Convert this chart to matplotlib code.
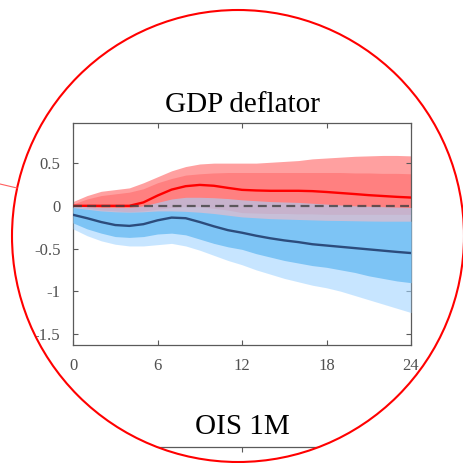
import numpy as np
import matplotlib
matplotlib.use("Agg")
import matplotlib.pyplot as plt
from matplotlib.path import Path
from matplotlib.patches import PathPatch, Circle

plt.rcParams['font.family'] = ['Liberation Serif', 'DejaVu Serif']
plt.rcParams['axes.unicode_minus'] = False

# horizons (months)
h = np.arange(0, 25)

# red response: median and bands
red_med = [0, 0, 0, 0, 0, 0.04, 0.12, 0.19, 0.23, 0.245, 0.235, 0.21, 0.187, 0.18, 0.176,
           0.176, 0.176, 0.172, 0.162, 0.15, 0.138, 0.125, 0.115, 0.105, 0.097]
red_out_hi = [0.05, 0.12, 0.17, 0.19, 0.21, 0.27, 0.34, 0.41, 0.46, 0.49, 0.5, 0.5, 0.5, 0.5, 0.51,
              0.52, 0.53, 0.55, 0.56, 0.57, 0.58, 0.585, 0.59, 0.59, 0.585]
red_in_hi = [0.02, 0.08, 0.12, 0.14, 0.16, 0.2, 0.27, 0.32, 0.36, 0.375, 0.385, 0.39, 0.39, 0.39, 0.39,
             0.39, 0.39, 0.39, 0.39, 0.39, 0.385, 0.385, 0.38, 0.38, 0.375]
red_in_lo = [-0.01, -0.03, -0.05, -0.06, -0.07, -0.06, -0.04, -0.02, -0.01, -0.01, -0.03, -0.05, -0.08,
             -0.085, -0.09, -0.09, -0.095, -0.095, -0.1, -0.1, -0.1, -0.1, -0.1, -0.1, -0.1]
red_out_lo = [-0.05, -0.09, -0.12, -0.13, -0.14, -0.13, -0.11, -0.09, -0.08, -0.08, -0.1, -0.12, -0.15,
              -0.16, -0.17, -0.17, -0.18, -0.18, -0.19, -0.19, -0.19, -0.2, -0.2, -0.2, -0.2]

# blue response: median and bands
blue_med = [-0.105, -0.145, -0.19, -0.225, -0.235, -0.215, -0.17, -0.138, -0.145, -0.19, -0.24, -0.285,
            -0.315, -0.35, -0.38, -0.405, -0.425, -0.45, -0.465, -0.48, -0.495, -0.51, -0.525, -0.54, -0.553]
blue_out_hi = [0.0, -0.01, -0.02, -0.02, -0.02, 0.0, 0.04, 0.08, 0.1, 0.1, 0.095, 0.085, 0.07, 0.06, 0.05,
               0.045, 0.04, 0.03, 0.02, 0.01, 0.0, -0.005, -0.01, -0.015, -0.02]
blue_in_hi = [-0.02, -0.04, -0.06, -0.07, -0.075, -0.07, -0.06, -0.06, -0.065, -0.075, -0.09, -0.11, -0.13,
              -0.14, -0.15, -0.155, -0.16, -0.165, -0.17, -0.172, -0.175, -0.178, -0.18, -0.18, -0.18]
blue_in_lo = [-0.2, -0.27, -0.32, -0.36, -0.37, -0.36, -0.33, -0.32, -0.34, -0.39, -0.44, -0.48, -0.51,
              -0.56, -0.6, -0.64, -0.67, -0.7, -0.72, -0.75, -0.78, -0.82, -0.85, -0.88, -0.9]
blue_out_lo = [-0.27, -0.35, -0.41, -0.45, -0.47, -0.47, -0.455, -0.44, -0.47, -0.52, -0.58, -0.64, -0.69,
               -0.75, -0.8, -0.85, -0.89, -0.93, -0.96, -1.0, -1.05, -1.1, -1.15, -1.2, -1.25]

xticks = [0, 6, 12, 18, 24]
yticks = [-1.5, -1, -0.5, 0, 0.5]
ytick_labels = ['-1.5', '-1', '-0.5', '0', '0.5']

W = 463
fig = plt.figure(figsize=(4.63, 4.63), dpi=100)

spine_col = '#5a5a5a'
lab_col = '#505050'


def style_axes(ax):
    for s in ax.spines.values():
        s.set_color(spine_col)
        s.set_linewidth(0.9)
    ax.tick_params(direction='in', top=True, right=True, length=3.5, width=0.8,
                   color=spine_col, labelcolor=lab_col, labelsize=12, pad=9)
    ax.set_xlim(0, 24)
    ax.set_xticks(xticks)


# top panel
ax = fig.add_axes([73 / W, 1 - 345 / W, 338 / W, 222 / W])
ax.fill_between(h, red_out_lo, red_out_hi, color='#ffa0a0', lw=0, zorder=1)
ax.fill_between(h, red_in_lo, red_in_hi, color='#ff8080', lw=0, zorder=2)
ax.fill_between(h, blue_out_lo, blue_out_hi, color=(163 / 255, 213 / 255, 1.0), alpha=0.6, lw=0, zorder=3)
ax.fill_between(h, blue_in_lo, blue_in_hi, color='#7dc4f5', lw=0, zorder=4)
ax.plot(h, red_med, color='#ff0000', lw=1.7, zorder=5)
ax.plot(h, blue_med, color='#2c4c7c', lw=1.7, zorder=5)
ax.axhline(0, color='#404040', alpha=0.8, lw=1.6, ls=(0, (4, 2.4)), zorder=6)
style_axes(ax)
ax.set_ylim(-1.63, 0.97)
ax.set_yticks(yticks)
ax.set_yticklabels(ytick_labels)
ax.set_title('GDP deflator', fontsize=21, pad=8)

# bottom panel (only its top edge shows)
ax2 = fig.add_axes([73 / W, 1 - 447 / W - 0.5, 338 / W, 0.5])
style_axes(ax2)
ax2.set_ylim(0, 1)
ax2.set_yticks([])
ax2.set_xticklabels([])
ax2.set_title('OIS 1M', fontsize=21, pad=9)

# circular magnifier mask on top
ov = fig.add_axes([0, 0, 1, 1])
ov.set_zorder(10)
ov.set_xlim(0, W)
ov.set_ylim(W, 0)
ov.axis('off')
ov.patch.set_alpha(0)

cx, cy, r = 238, 236, 226
th = np.linspace(2 * np.pi, 0, 400)
rect = [(-5, -5), (W + 5, -5), (W + 5, W + 5), (-5, W + 5), (-5, -5)]
circ = list(zip(cx + r * np.cos(th), cy + r * np.sin(th)))
verts = rect + circ + [circ[0]]
codes = ([Path.MOVETO] + [Path.LINETO] * 3 + [Path.CLOSEPOLY]
         + [Path.MOVETO] + [Path.LINETO] * (len(circ) - 1) + [Path.CLOSEPOLY])
ov.add_patch(PathPatch(Path(verts, codes), facecolor='white', edgecolor='none'))
ov.add_patch(Circle((cx, cy), r, fill=False, edgecolor='#ff0000', lw=1.5))
ov.plot([0, 17], [184, 188], color='#ff6060', lw=0.8)

fig.savefig('out.png', dpi=100)
